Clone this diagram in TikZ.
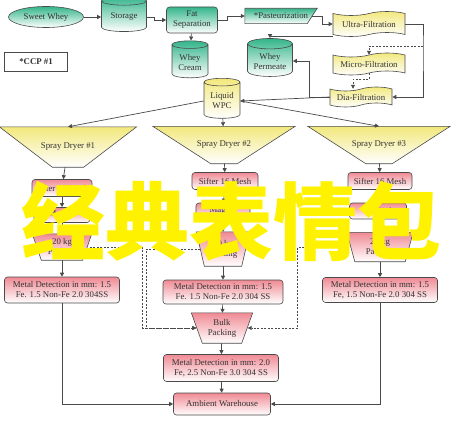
\documentclass[tikz,border=0pt]{standalone}
\usepackage{fontspec}
\setmainfont{Liberation Serif}
\newfontfamily\cjk{Noto Sans CJK SC}
\usetikzlibrary{arrows.meta, positioning, shapes.geometric, shapes.symbols, backgrounds}
\definecolor{myTeal}{HTML}{33B58A}
\definecolor{myYellow}{HTML}{F2E87C}
\definecolor{myPink}{HTML}{F08A94}
\definecolor{myLine}{HTML}{4A4A4A}

% slanted outline behind a named node: node, left inset, right inset, fill style
\newcommand{\slantbg}[4]{%
  \shade[#4] (#1.north west) -- (#1.north east) -- ([xshift=-#3]#1.south east)
    -- ([xshift=#2]#1.south west) -- cycle;}

\begin{document}
\begin{tikzpicture}[x=1pt, y=-1pt,
every node/.style={font=\fontsize{8.8}{10}\selectfont, text=black!80, align=center},
tealfill/.style={top color=myTeal, bottom color=white, draw=myLine, line width=0.6pt},
yellowfill/.style={top color=myYellow, bottom color=white, draw=myLine, line width=0.6pt},
pinkfill/.style={top color=myPink, bottom color=white, draw=myLine, line width=0.6pt},
box/.style={rounded corners=3pt, inner sep=2pt},
can/.style={cylinder, shape border rotate=90, aspect=0.3, inner sep=1pt},
wavy/.style={tape, tape bend top=in and out, tape bend bottom=in and out, tape bend height=4pt, yellowfill, inner sep=1pt},
slab/.style={inner sep=1pt},
arrow/.style={-{Triangle[length=4pt, width=4pt]}, line width=0.7pt, myLine},
dasharrow/.style={arrow, dash pattern=on 2pt off 1.5pt}
]

\useasboundingbox (0,0) rectangle (452,420);

% top row
\node[ellipse, tealfill, minimum width=75pt, minimum height=21pt, inner sep=0pt] (sweet) at (46,17) {Sweet Whey};
\node[can, tealfill, minimum width=45pt, minimum height=35pt] (storage) at (124,17) {Storage};
\node[box, tealfill, minimum width=51pt, minimum height=26pt] (fatsep) at (192,20) {Fat\\Separation};
\node[can, tealfill, minimum width=36pt, minimum height=37pt] (cream) at (190,62) {Whey\\Cream};
\node[draw=myLine, line width=0.6pt, minimum width=63pt, minimum height=19pt, font=\fontsize{8.8}{10}\selectfont\bfseries] (ccp) at (36,62) {*CCP \#1};
\node[slab, minimum width=72pt, minimum height=15pt] (pasteur) at (281,16) {*Pasteurization};
\node[wavy, minimum width=72pt, minimum height=25pt] (ultra) at (369,24) {Ultra-Filtration};
\node[can, tealfill, minimum width=45pt, minimum height=38pt] (permeate) at (270,61) {Whey\\Permeate};
\node[wavy, minimum width=72pt, minimum height=22pt] (micro) at (369,64) {Micro-Filtration};
\node[wavy, minimum width=62pt, minimum height=20pt] (dia) at (361,97) {Dia-Filtration};
\node[can, yellowfill, minimum width=36pt, minimum height=40pt] (wpc) at (222,101) {Liquid\\WPC};

% dryers
\node[slab, minimum width=137pt, minimum height=40pt] (dryer1) at (68,147) {Spray Dryer \#1};
\node[slab, minimum width=142pt, minimum height=37pt] (dryer2) at (224,145) {Spray Dryer \#2};
\node[slab, minimum width=142pt, minimum height=37pt] (dryer3) at (379,145) {Spray Dryer \#3};

% column 1
\node[box, pinkfill, minimum width=60pt, minimum height=17pt] (sift1) at (62,188) {Sifter 16 Mesh};
\node[box, pinkfill, minimum width=56pt, minimum height=15pt] (magnet1) at (62,215) {Magnet};
\node[slab, minimum width=59pt, minimum height=26pt] (pack1) at (62,247) {20 kg\\Packing};
\node[box, pinkfill, minimum width=115pt, minimum height=26pt] (md1) at (62,290) {Metal Detection in mm: 1.5\\Fe. 1.5 Non-Fe 2.0 304SS};

% column 2
\node[box, pinkfill, minimum width=66pt, minimum height=17pt] (sift2) at (225,181) {Sifter 16 Mesh};
\node[box, pinkfill, minimum width=54pt, minimum height=16pt] (magnet2) at (223,211) {Magnet};
\node[slab, minimum width=53pt, minimum height=34pt] (pack2) at (223,249) {20 kg\\Packing};
\node[box, pinkfill, minimum width=120pt, minimum height=24pt] (md2) at (223,292) {Metal Detection in mm: 1.5\\Fe. 1.5 Non-Fe 2.0 304 SS};
\node[slab, minimum width=61pt, minimum height=30pt] (bulk) at (222,328) {Bulk\\Packing};
\node[box, pinkfill, minimum width=115pt, minimum height=27pt] (md4) at (221,368) {Metal Detection in mm: 2.0\\Fe, 2.5 Non-Fe 3.0 304 SS};
\node[box, pinkfill, minimum width=97pt, minimum height=22pt] (store) at (222,404) {Ambient Warehouse};

% column 3
\node[box, pinkfill, minimum width=64pt, minimum height=17pt] (sift3) at (380,181) {Sifter 16 Mesh};
\node[box, pinkfill, minimum width=57pt, minimum height=16pt] (magnet3) at (378,211) {Magnet};
\node[slab, minimum width=66pt, minimum height=29pt] (pack3) at (380,247) {20 kg\\Packing};
\node[box, pinkfill, minimum width=115pt, minimum height=25pt] (md3) at (380,290) {Metal Detection in mm: 1.5\\Fe, 1.5 Non-Fe 2.0 304 SS};

\begin{pgfonlayer}{background}
\slantbg{pasteur}{0pt}{10pt}{tealfill}
\slantbg{dryer1}{53pt}{53pt}{yellowfill}
\slantbg{dryer2}{58pt}{58pt}{yellowfill}
\slantbg{dryer3}{58pt}{58pt}{yellowfill}
\slantbg{pack1}{9pt}{9pt}{pinkfill}
\slantbg{pack2}{8pt}{8pt}{pinkfill}
\slantbg{pack3}{8pt}{8pt}{pinkfill}
\slantbg{bulk}{11pt}{11pt}{pinkfill}
\end{pgfonlayer}

\coordinate (mfork) at (423,46);

% connectors, top
\draw[arrow] (sweet) -- (storage);
\draw[arrow] (storage.east) -- ++(8,0) |- (fatsep.west);
\draw[arrow] (fatsep) -- (cream);
\draw[arrow] (fatsep.east) -- ++(10,0) |- (pasteur.west);
\draw[arrow] ([xshift=-5pt]pasteur.east) -- ++(10,0) |- (ultra.west);
\draw[arrow] ([yshift=-2pt]ultra.south west) -| (permeate.north);
\draw[arrow] (ultra.east) -| (mfork) |- (dia.east);
\draw[dasharrow] (mfork) -| (micro.north);
\draw[dasharrow] (micro.south) -- ++(0,6) -| ([xshift=-8pt]dia.north);
\draw[arrow] (dia.west) -- ++(-20,0) |- (permeate.east);
\draw[arrow] (dia.west) -- (wpc.east);
\draw[arrow] (wpc.east) -- (dryer3.north);
\draw[arrow] (wpc.west) -- (dryer1.north);
\draw[arrow] (wpc) -- (dryer2);

% connectors, columns
\draw[arrow] (dryer1) -- (sift1);
\draw[arrow] (sift1) -- (magnet1);
\draw[arrow] (magnet1) -- (pack1);
\draw[arrow] (pack1) -- (md1);
\draw[arrow] (dryer2) -- (sift2);
\draw[arrow] (sift2) -- (magnet2);
\draw[arrow] (magnet2) -- (pack2);
\draw[arrow] (pack2) -- (md2);
\draw[arrow] (md2) -- (bulk);
\draw[arrow] (bulk) -- (md4);
\draw[arrow] (md4) -- (store);
\draw[arrow] (dryer3) -- (sift3);
\draw[arrow] (sift3) -- (magnet3);
\draw[arrow] (magnet3) -- (pack3);
\draw[arrow] (pack3) -- (md3);
\draw[arrow] (md1.south) |- (store.west);
\draw[arrow] (md3.south) |- (store.east);
\draw[dasharrow] ([xshift=-2pt]pack1.east) -- ++(53,0) |- ([xshift=5pt]bulk.west);
\draw[dasharrow] ([xshift=4pt]pack2.west) -- ++(-54,0) |- ([xshift=5pt]bulk.west);
\draw[dasharrow] ([xshift=-4pt]pack3.west) -- ++(-45,0) |- ([xshift=-5pt]bulk.east);

\node[font=\cjk\bfseries\fontsize{84}{84}\selectfont, text=yellow] (mark) at (231,221) {经典表情包};

\end{tikzpicture}
\end{document}
